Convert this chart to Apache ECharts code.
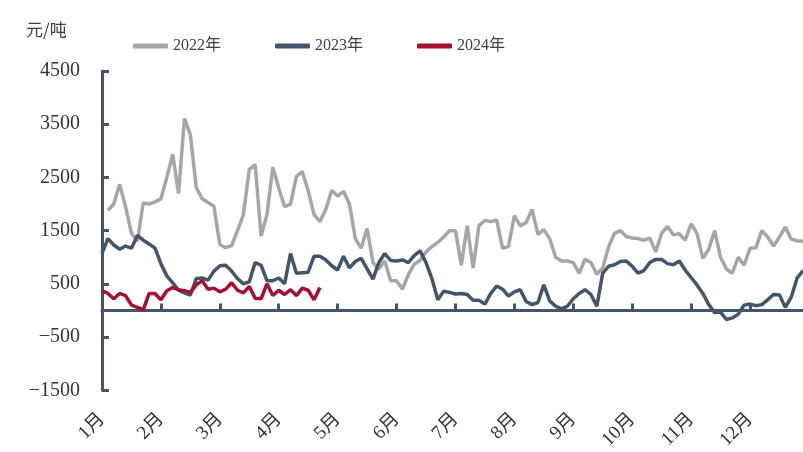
<!DOCTYPE html>
<html>
<head>
<meta charset="utf-8">
<script src="https://cdn.jsdelivr.net/npm/echarts@6/dist/echarts.min.js"></script>
<style>
  html, body { margin: 0; padding: 0; background: #fff; }
  #chart { width: 803px; height: 452px; }
</style>
</head>
<body>
<div id="chart"></div>
<script>
// 每月10个点
const monthLabels = ['1月', '2月', '3月', '4月', '5月', '6月', '7月', '8月', '9月', '10月', '11月', '12月']
const pointsPerMonth = 10

const y2022 = [
  null, 1880, 2000, 2370, 1950, 1450, 1300, 2020, 2000, 2040,
  2100, 2500, 2930, 2200, 3610, 3300, 2310, 2100, 2030, 1960,
  1240, 1180, 1220, 1500, 1800, 2650, 2740, 1400, 1800, 2690,
  2300, 1950, 2000, 2520, 2610, 2250, 1800, 1670, 1900, 2260,
  2150, 2240, 2000, 1350, 1170, 1540, 900, 780, 930, 560,
  560, 400, 670, 870, 940, 1100, 1200, 1280, 1380, 1500,
  1500, 850, 1590, 800, 1600, 1690, 1670, 1700, 1170, 1200,
  1780, 1590, 1650, 1900, 1430, 1520, 1350, 1000, 930, 930,
  900, 700, 960, 900, 680, 800, 1200, 1450, 1500, 1390,
  1360, 1350, 1320, 1360, 1100, 1450, 1580, 1420, 1440, 1320,
  1630, 1450, 980, 1150, 1500, 1000, 780, 700, 1000, 850,
  1170, 1180, 1500, 1380, 1210, 1380, 1570, 1340, 1310, 1300
]
const y2023 = [
  1070, 1350, 1230, 1150, 1210, 1170, 1410, 1320, 1250, 1170,
  880, 650, 520, 380, 330, 290, 600, 610, 570, 740,
  840, 850, 740, 600, 500, 540, 900, 850, 560, 560,
  610, 500, 1070, 700, 710, 720, 1020, 1020, 950, 840,
  760, 1020, 800, 920, 980, 780, 590, 900, 1070, 940,
  930, 950, 900, 1030, 1120, 900, 600, 200, 360, 340,
  310, 320, 300, 190, 190, 120, 320, 460, 400, 270,
  350, 390, 170, 110, 150, 480, 180, 80, 30, 80,
  220, 320, 390, 300, 80, 700, 830, 860, 920, 930,
  830, 700, 750, 900, 960, 960, 880, 860, 930, 760,
  620, 480, 320, 110, -40, -30, -170, -140, -70, 100,
  120, 90, 110, 200, 300, 290, 60, 250, 610, 750
]
const y2024 = [
  370, 320, 220, 320, 280, 100, 60, 10, 320, 320,
  200, 370, 430, 390, 370, 340, 480, 560, 400, 420,
  350, 400, 520, 380, 330, 450, 230, 220, 500, 280,
  380, 300, 390, 280, 420, 380, 200, 430
]

const categories = []
for (let i = 0; i < 12 * pointsPerMonth; i++) {
  categories.push(i % pointsPerMonth === 0 ? monthLabels[i / pointsPerMonth] : String(i))
}

const seriesNames = ['2022年', '2023年', '2024年']
const seriesColors = ['#A6A6A6', '#44546A', '#A50F30']
const seriesData = [y2022, y2023, y2024]

const chart = echarts.init(document.getElementById('chart'))
const serif = '"Liberation Serif", "Noto Sans CJK SC", serif'
const axisColor = '#44546A'

chart.setOption({
  animation: false,
  color: seriesColors,
  textStyle: { fontFamily: serif },
  graphic: [{
    type: 'text',
    left: 26,
    top: 21,
    style: { text: '元/吨', font: '17px "Noto Sans CJK SC"', fill: '#404040' }
  }],
  legend: {
    top: 33,
    left: 128,
    itemWidth: 35,
    itemHeight: 5,
    itemGap: 54,
    icon: 'roundRect',
    textStyle: { fontSize: 16, color: '#404040', fontFamily: serif },
    data: seriesNames
  },
  grid: { left: 102, right: -5, top: 71, bottom: 58 },
  xAxis: [{
    type: 'category',
    boundaryGap: false,
    data: categories,
    position: 'bottom',
    axisLine: { show: false, onZero: false },
    axisTick: { show: false },
    axisLabel: {
      interval: pointsPerMonth - 1,
      rotate: 45,
      margin: 26,
      fontSize: 19,
      color: '#333',
      fontFamily: serif
    }
  }, {
    type: 'category',
    boundaryGap: false,
    data: categories,
    position: 'bottom',
    axisLine: { show: true, onZero: true, lineStyle: { color: axisColor, width: 3 } },
    axisTick: { show: true, inside: true, length: 7, interval: pointsPerMonth - 1, lineStyle: { color: axisColor, width: 3 } },
    axisLabel: { show: false }
  }],
  yAxis: {
    type: 'value',
    min: -1500,
    max: 4500,
    interval: 1000,
    axisLine: { show: true, lineStyle: { color: axisColor, width: 3 } },
    axisTick: { show: true, inside: true, length: 7, lineStyle: { color: axisColor, width: 3 } },
    splitLine: { show: false },
    axisLabel: {
      margin: 22,
      fontSize: 20,
      color: '#333',
      fontFamily: serif,
      formatter: v => String(v).replace('-', '−')
    }
  },
  series: seriesData.map((d, i) => ({
    name: seriesNames[i],
    type: 'line',
    data: d,
    xAxisIndex: 0,
    symbol: 'none',
    lineStyle: { width: 3.5, color: seriesColors[i] },
    z: 2 + i
  }))
})
</script>
</body>
</html>
